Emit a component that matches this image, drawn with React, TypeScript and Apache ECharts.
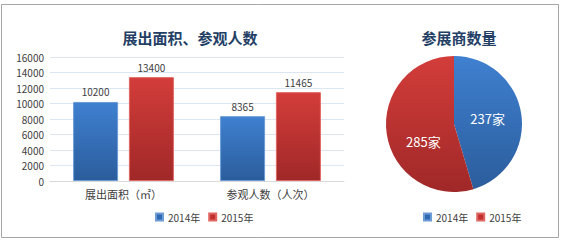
import React, { useEffect, useRef } from "react";
import * as echarts from "echarts";

const categories = ["展出面积（㎡）", "参观人数（人次）"];
const seriesNames = ["2014年", "2015年"];
const values2014 = [10200, 8365];
const values2015 = [13400, 11465];
const exhibitorNames = ["2014年", "2015年"];
const exhibitorCounts = [237, 285];

const FONT = "'Noto Sans CJK SC', 'Noto Sans', sans-serif";

const blueGrad = () =>
  new echarts.graphic.LinearGradient(0, 0, 0, 1, [
    { offset: 0, color: "#3F80D0" },
    { offset: 1, color: "#2B5D9C" },
  ]);
const redGrad = () =>
  new echarts.graphic.LinearGradient(0, 0, 0, 1, [
    { offset: 0, color: "#D33D3A" },
    { offset: 1, color: "#A02828" },
  ]);

export default function App() {
  const ref = useRef<HTMLDivElement>(null);
  useEffect(() => {
    if (!ref.current) return;
    const chart = echarts.init(ref.current, null, { renderer: "svg" });
    chart.setOption({
      animation: false,
      backgroundColor: "#ffffff",
      textStyle: { fontFamily: FONT },
      graphic: [
        {
          type: "rect",
          shape: { x: 1.5, y: 4.5, width: 557, height: 233 },
          style: { fill: "none", stroke: "#A6A6A6", lineWidth: 1 },
          silent: true,
        },
      ],
      title: [
        {
          text: "展出面积、参观人数",
          left: 185,
          textAlign: "center",
          top: 25,
          textStyle: { fontSize: 15, fontWeight: 600, color: "#243F66", fontFamily: FONT },
        },
        {
          text: "参展商数量",
          left: 454,
          textAlign: "center",
          top: 25,
          textStyle: { fontSize: 15, fontWeight: 600, color: "#243F66", fontFamily: FONT },
        },
      ],
      legend: [
        {
          left: 150,
          top: 207,
          itemWidth: 7,
          itemHeight: 7,
          itemGap: 8,
          icon: "rect",
          textStyle: { fontSize: 10, color: "#404040", fontFamily: FONT },
          data: [
            { name: seriesNames[0], itemStyle: { color: "#2F69B2" } },
            { name: seriesNames[1], itemStyle: { color: "#C0302E" } },
          ],
        },
        {
          left: 418,
          top: 207,
          itemWidth: 7,
          itemHeight: 7,
          itemGap: 8,
          icon: "rect",
          textStyle: { fontSize: 10, color: "#404040", fontFamily: FONT },
          data: [
            { name: exhibitorNames[0], itemStyle: { color: "#2F69B2" } },
            { name: exhibitorNames[1], itemStyle: { color: "#C0302E" } },
          ],
        },
      ],
      grid: { left: 50, right: 217, top: 57, bottom: 61 },
      xAxis: {
        type: "category",
        data: categories,
        axisLine: { lineStyle: { color: "#D9D9D9" } },
        axisTick: { show: false },
        axisLabel: { fontSize: 11, color: "#404040", margin: 7, fontFamily: FONT },
      },
      yAxis: {
        type: "value",
        min: 0,
        max: 16000,
        interval: 2000,
        axisLine: { show: false },
        axisTick: { show: false },
        axisLabel: {
          fontSize: 10,
          color: "#404040",
          margin: 6,
          fontFamily: FONT,
          formatter: (v: number) => String(v),
        },
        splitLine: { lineStyle: { color: "#DCE6F2" } },
      },
      series: [
        {
          type: "bar",
          name: seriesNames[0],
          data: values2014,
          barWidth: 45,
          barGap: "24%",
          itemStyle: { color: blueGrad(), borderColor: "#6C9BD6", borderWidth: 1 },
          label: { show: true, position: "top", distance: 5, fontSize: 10, color: "#404040", fontFamily: FONT },
        },
        {
          type: "bar",
          name: seriesNames[1],
          data: values2015,
          barWidth: 45,
          barGap: "24%",
          itemStyle: { color: redGrad(), borderColor: "#E06662", borderWidth: 1 },
          label: { show: true, position: "top", distance: 5, fontSize: 10, color: "#404040", fontFamily: FONT },
        },
        {
          type: "pie",
          center: [454, 124],
          radius: 68,
          startAngle: 90,
          clockwise: true,
          label: {
            show: true,
            position: "inside",
            formatter: "{c}家",
            fontSize: 13,
            color: "#ffffff",
            fontFamily: FONT,
          },
          labelLine: { show: false },
          itemStyle: { borderWidth: 0 },
          data: exhibitorNames.map((n, i) => ({
            name: n,
            value: exhibitorCounts[i],
            itemStyle: { color: i === 0 ? blueGrad() : redGrad() },
            label: { offset: i === 0 ? [-3, 0] : [6, 12] },
          })),
        },
      ],
    });
    return () => chart.dispose();
  }, []);
  return (
    <div
      ref={ref}
      style={{ position: "fixed", left: 0, top: 0, width: 561, height: 242 }}
    />
  );
}
